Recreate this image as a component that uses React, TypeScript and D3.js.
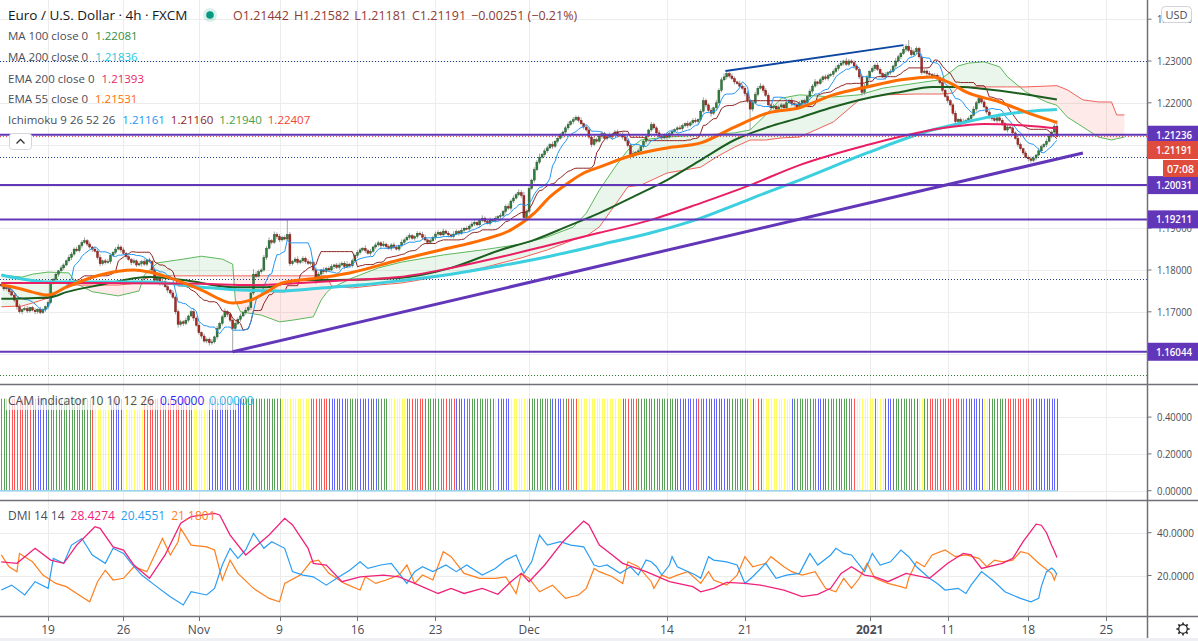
import React from "react";
import * as d3 from "d3";

const W = 1198;
const H = 641;

// ---------- Price data (EUR/USD 4h closes) ----------
const FIRST_OPEN = 1.1766;
const closes = [
  1.1762, 1.1755, 1.1758, 1.1748, 1.1740, 1.1728, 1.1712, 1.1700, 1.1705, 1.1708,
  1.1702, 1.1710, 1.1704, 1.1700, 1.1706, 1.1698, 1.1705, 1.1712, 1.1722, 1.1770,
  1.1778, 1.1790, 1.1798, 1.1805, 1.1812, 1.1822, 1.1830, 1.1838, 1.1850, 1.1846,
  1.1858, 1.1866, 1.1870, 1.1862, 1.1855, 1.1850, 1.1845, 1.1830, 1.1815, 1.1822,
  1.1818, 1.1820, 1.1835, 1.1842, 1.1850, 1.1855, 1.1848, 1.1840, 1.1832, 1.1825,
  1.1818, 1.1822, 1.1812, 1.1815, 1.1820, 1.1814, 1.1824, 1.1820, 1.1800, 1.1775,
  1.1780, 1.1768, 1.1772, 1.1760, 1.1752, 1.1745, 1.1735, 1.1700, 1.1670, 1.1676,
  1.1672, 1.1680, 1.1690, 1.1700, 1.1685, 1.1668, 1.1650, 1.1642, 1.1630, 1.1634,
  1.1626, 1.1628, 1.1640, 1.1660, 1.1672, 1.1688, 1.1700, 1.1694, 1.1680, 1.1660,
  1.1672, 1.1682, 1.1690, 1.1698, 1.1704, 1.1710, 1.1745, 1.1790, 1.1785, 1.1796,
  1.1800, 1.1830, 1.1852, 1.1870, 1.1866, 1.1885, 1.1880, 1.1872, 1.1878, 1.1874,
  1.1885, 1.1815, 1.1820, 1.1826, 1.1818, 1.1822, 1.1828, 1.1820, 1.1816, 1.1818,
  1.1800, 1.1775, 1.1790, 1.1800, 1.1796, 1.1804, 1.1800, 1.1808, 1.1812, 1.1806,
  1.1812, 1.1816, 1.1808, 1.1814, 1.1810, 1.1822, 1.1835, 1.1842, 1.1848, 1.1852,
  1.1846, 1.1840, 1.1845, 1.1855, 1.1860, 1.1865, 1.1858, 1.1862, 1.1856, 1.1852,
  1.1860, 1.1854, 1.1850, 1.1858, 1.1866, 1.1872, 1.1878, 1.1882, 1.1876, 1.1880,
  1.1888, 1.1885, 1.1878, 1.1872, 1.1866, 1.1870, 1.1878, 1.1886, 1.1890, 1.1884,
  1.1893, 1.1888, 1.1884, 1.1880, 1.1886, 1.1892, 1.1888, 1.1895, 1.1900, 1.1898,
  1.1905, 1.1910, 1.1914, 1.1908, 1.1918, 1.1924, 1.1916, 1.1912, 1.1920, 1.1918,
  1.1924, 1.1928, 1.1930, 1.1940, 1.1952, 1.1948, 1.1965, 1.1972, 1.1980, 1.1985,
  1.1978, 1.1925, 1.1940, 1.1995, 1.2015, 1.2040, 1.2058, 1.2070, 1.2076, 1.2085,
  1.2092, 1.2100, 1.2096, 1.2108, 1.2115, 1.2122, 1.2130, 1.2140, 1.2148, 1.2155,
  1.2160, 1.2165, 1.2158, 1.2150, 1.2142, 1.2135, 1.2118, 1.2100, 1.2112, 1.2108,
  1.2120, 1.2126, 1.2115, 1.2122, 1.2118, 1.2124, 1.2130, 1.2122, 1.2125, 1.2118,
  1.2110, 1.2098, 1.2072, 1.2078, 1.2082, 1.2085, 1.2095, 1.2108, 1.2120, 1.2135,
  1.2148, 1.2140, 1.2128, 1.2120, 1.2116, 1.2122, 1.2118, 1.2126, 1.2132, 1.2136,
  1.2140, 1.2138, 1.2145, 1.2150, 1.2146, 1.2152, 1.2158, 1.2155, 1.2160, 1.2180,
  1.2205, 1.2195, 1.2182, 1.2175, 1.2188, 1.2200, 1.2230, 1.2255, 1.2262, 1.2270,
  1.2264, 1.2258, 1.2250, 1.2246, 1.2240, 1.2235, 1.2222, 1.2205, 1.2185, 1.2200,
  1.2220, 1.2235, 1.2240, 1.2230, 1.2218, 1.2195, 1.2188, 1.2192, 1.2185, 1.2190,
  1.2195, 1.2188, 1.2200, 1.2205, 1.2198, 1.2195, 1.2190, 1.2198, 1.2205, 1.2200,
  1.2215, 1.2228, 1.2240, 1.2250, 1.2246, 1.2255, 1.2262, 1.2258, 1.2265, 1.2268,
  1.2275, 1.2282, 1.2290, 1.2295, 1.2300, 1.2292, 1.2300, 1.2296, 1.2288, 1.2280,
  1.2262, 1.2225, 1.2240, 1.2260, 1.2275, 1.2282, 1.2290, 1.2280, 1.2270, 1.2262,
  1.2268, 1.2272, 1.2275, 1.2288, 1.2300, 1.2310, 1.2318, 1.2328, 1.2335, 1.2325,
  1.2315, 1.2322, 1.2330, 1.2310, 1.2272, 1.2276, 1.2270, 1.2268, 1.2262, 1.2266,
  1.2260, 1.2248, 1.2230, 1.2215, 1.2205, 1.2195, 1.2175, 1.2155, 1.2160, 1.2152,
  1.2156, 1.2158, 1.2162, 1.2170, 1.2185, 1.2200, 1.2210, 1.2202, 1.2190, 1.2178,
  1.2165, 1.2162, 1.2158, 1.2164, 1.2158, 1.2150, 1.2135, 1.2142, 1.2140, 1.2128,
  1.2115, 1.2100, 1.2090, 1.2080, 1.2070, 1.2066, 1.2062, 1.2068, 1.2075, 1.2085,
  1.2095, 1.2100, 1.2108, 1.2120, 1.2130, 1.2144, 1.2119,
];
// wick extents beyond the body, in pips
const upWickPips = [
  4, 3, 6, 2, 5, 3, 4, 7, 3, 5, 6, 2, 4, 5, 3, 6, 4, 3, 5, 8,
  3, 5, 2, 6, 4, 3, 7, 5, 4, 6, 3, 5, 8, 4, 6, 3, 5, 4, 7, 3,
  5, 6, 4, 3, 5, 7, 4, 6, 3, 5, 4, 6, 3, 5, 4, 8, 3, 5, 4, 6,
  5, 3, 6, 4, 5, 3, 7, 4, 6, 5, 4, 6, 3, 5, 8, 4, 5, 3, 6, 4,
  5, 7, 3, 6, 4, 5, 8, 4, 6, 3, 5, 4, 6, 3, 7, 5, 4, 12, 6, 5,
  4, 6, 5, 8, 4, 7, 5, 6, 4, 5, 36, 6, 4, 5, 7, 3, 5, 4, 6, 5,
  4, 6, 5, 3, 7, 4, 5, 6, 3, 5, 6, 4, 5, 7, 3, 5, 4, 6, 5, 3,
  7, 4, 5, 3, 6, 5, 4, 7, 3, 5, 4, 6, 5, 3, 7, 4, 5, 6, 4, 3,
  5, 4, 6, 7, 3, 5, 4, 6, 5, 3, 6, 4, 5, 3, 7, 5, 4, 6, 3, 5,
  4, 6, 5, 3, 5, 7, 4, 5, 6, 4, 5, 3, 6, 4, 5, 7, 4, 6, 5, 8,
  6, 9, 5, 7, 4, 6, 5, 8, 4, 6, 5, 4, 7, 3, 5, 6, 4, 5, 7, 4,
  6, 5, 4, 7, 3, 5, 6, 4, 8, 5, 4, 6, 5, 3, 7, 4, 5, 6, 4, 5,
  6, 4, 5, 7, 3, 5, 4, 6, 5, 3, 6, 5, 4, 7, 3, 5, 6, 4, 5, 3,
  4, 6, 5, 3, 7, 4, 5, 6, 3, 5, 8, 5, 4, 6, 3, 7, 5, 6, 8, 5,
  4, 6, 5, 3, 7, 4, 5, 6, 4, 5, 6, 5, 7, 4, 5, 6, 3, 5, 4, 6,
  5, 3, 6, 4, 7, 5, 4, 6, 3, 5, 4, 6, 5, 7, 3, 5, 4, 6, 5, 4,
  5, 7, 4, 6, 3, 8, 5, 4, 6, 5, 4, 6, 5, 7, 3, 5, 4, 6, 5, 3,
  5, 4, 6, 3, 7, 5, 4, 6, 5, 15, 8, 6, 5, 4, 7, 5, 4, 6, 3, 5,
  4, 6, 5, 3, 7, 4, 5, 6, 4, 5, 6, 4, 5, 3, 7, 5, 4, 6, 5, 3,
  5, 4, 6, 3, 7, 5, 4, 6, 5, 4, 4, 6, 5, 3, 5, 4, 6, 5, 3, 7,
  5, 4, 6, 5, 4, 6, 14,
];
const loWickPips = [
  3, 5, 4, 6, 3, 5, 7, 4, 6, 3, 5, 4, 3, 6, 5, 4, 3, 5, 6, 4,
  5, 3, 6, 4, 5, 3, 4, 6, 5, 3, 4, 6, 3, 5, 4, 7, 3, 5, 6, 4,
  5, 3, 6, 4, 5, 3, 6, 4, 5, 3, 6, 4, 5, 3, 7, 4, 5, 3, 6, 5,
  4, 6, 5, 3, 7, 4, 5, 6, 8, 5, 6, 4, 5, 3, 7, 4, 5, 6, 4, 5,
  7, 5, 4, 6, 3, 5, 4, 6, 5, 56, 5, 4, 6, 3, 5, 4, 6, 5, 4, 3,
  5, 4, 6, 3, 5, 4, 6, 5, 4, 3, 5, 6, 4, 3, 5, 4, 6, 5, 4, 5,
  4, 8, 5, 3, 6, 4, 5, 3, 6, 4, 5, 3, 6, 4, 5, 4, 3, 6, 5, 4,
  5, 3, 6, 4, 5, 4, 6, 3, 5, 4, 6, 4, 3, 5, 4, 6, 3, 5, 4, 6,
  5, 3, 6, 4, 5, 4, 3, 6, 5, 4, 5, 3, 6, 4, 5, 3, 6, 4, 5, 3,
  6, 4, 5, 3, 6, 4, 5, 3, 6, 4, 5, 4, 6, 3, 5, 4, 6, 5, 3, 4,
  6, 8, 7, 5, 4, 6, 3, 5, 4, 6, 5, 3, 6, 4, 5, 3, 6, 4, 5, 3,
  6, 4, 5, 3, 6, 4, 5, 6, 4, 5, 3, 6, 4, 5, 3, 6, 4, 5, 3, 6,
  4, 5, 7, 4, 6, 3, 5, 4, 6, 3, 5, 4, 6, 3, 5, 4, 6, 3, 5, 4,
  6, 3, 5, 4, 6, 3, 5, 4, 6, 5, 4, 6, 5, 8, 4, 6, 3, 5, 4, 6,
  5, 4, 6, 3, 5, 4, 6, 5, 50, 6, 4, 5, 3, 6, 4, 5, 6, 4, 5, 3,
  6, 4, 5, 3, 6, 4, 5, 3, 6, 4, 5, 3, 6, 4, 5, 3, 6, 4, 5, 3,
  6, 4, 5, 3, 6, 4, 5, 3, 6, 4, 5, 8, 6, 4, 5, 3, 6, 4, 5, 3,
  6, 4, 5, 3, 6, 4, 5, 3, 6, 4, 5, 3, 6, 4, 5, 3, 6, 4, 5, 3,
  6, 4, 5, 3, 6, 4, 5, 6, 4, 5, 3, 6, 4, 5, 3, 6, 4, 5, 3, 6,
  4, 5, 3, 6, 4, 5, 3, 6, 4, 5, 3, 6, 4, 5, 3, 6, 5, 4, 6, 3,
  5, 4, 6, 3, 5, 4, 1,
];

// ---------- Moving averages [bar index, price] ----------
const ma100Pts: [number, number][] = [
  [0, 1.1731], [19, 1.1735], [25, 1.1747], [38, 1.1764], [57, 1.1783], [70, 1.1776], [89, 1.1759],
  [102, 1.1759], [115, 1.1776], [128, 1.1776], [153, 1.1781], [173, 1.1805], [192, 1.1848], [205, 1.1872],
  [218, 1.1905], [230, 1.1936], [243, 1.1975], [256, 1.2015], [269, 1.2063], [282, 1.2111], [295, 1.2142],
  [307, 1.2164], [320, 1.2190], [333, 1.2211], [346, 1.2226], [358, 1.2238], [369, 1.2238], [378, 1.2233],
  [391, 1.2223], [406, 1.2208],
];
const ma200Pts: [number, number][] = [
  [0, 1.1788], [19, 1.1771], [57, 1.1771], [77, 1.1759], [92, 1.1752], [107, 1.1750], [123, 1.1757],
  [138, 1.1764], [153, 1.1774], [173, 1.1790], [192, 1.1810], [211, 1.1833], [230, 1.1860], [250, 1.1889],
  [269, 1.1924], [282, 1.1955], [295, 1.1987], [307, 1.2015], [333, 1.2080], [358, 1.2135], [371, 1.2154],
  [384, 1.2171], [396, 1.2180], [406, 1.2184],
];
const ema200Pts: [number, number][] = [
  [0, 1.1769], [38, 1.1769], [77, 1.1767], [96, 1.1764], [115, 1.1769], [134, 1.1776], [153, 1.1783],
  [173, 1.1805], [192, 1.1831], [211, 1.1860], [230, 1.1889], [250, 1.1920], [269, 1.1960], [288, 1.2003],
  [307, 1.2051], [333, 1.2099], [352, 1.2128], [365, 1.2142], [378, 1.2149], [397, 1.2144], [406, 1.2139],
];
const ema55Pts: [number, number][] = [
  [0, 1.1764], [6, 1.1757], [12, 1.1747], [18, 1.1740], [25, 1.1759], [38, 1.1788], [51, 1.1800],
  [57, 1.1795], [64, 1.1783], [77, 1.1752], [89, 1.1721], [96, 1.1728], [102, 1.1747], [108, 1.1769],
  [122, 1.1781], [134, 1.1793], [153, 1.1824], [169, 1.1848], [185, 1.1872], [196, 1.1896], [205, 1.1936],
  [211, 1.1975], [218, 1.2008], [224, 1.2032], [230, 1.2046], [243, 1.2075], [256, 1.2092], [269, 1.2104],
  [282, 1.2142], [295, 1.2176], [307, 1.2188], [320, 1.2219], [333, 1.2238], [346, 1.2255], [358, 1.2262],
  [365, 1.2247], [371, 1.2226], [384, 1.2202], [397, 1.2171], [406, 1.2153],
];

// ---------- Ichimoku cloud (leading spans, shifted 26 bars) ----------
const cloudIdx = [
  0, 8, 12, 18, 26, 29, 35, 45, 53, 55, 60, 70, 77, 85, 89, 90, 92, 100, 107, 112, 120, 123, 125, 127,
  135, 145, 154, 170, 185, 200, 210, 220, 225, 230, 236, 241, 246, 256, 269, 275, 282, 288, 294, 300,
  307, 320, 330, 339, 352, 361, 366, 368, 372, 378, 384, 387, 394, 402, 406, 410, 416, 422, 427, 429, 432,
];
const spanA = [
  1.1788, 1.1783, 1.1790, 1.1795, 1.1793, 1.1767, 1.1748, 1.1738, 1.1750, 1.1788, 1.1817, 1.1826, 1.1833,
  1.1826, 1.1814, 1.1728, 1.1700, 1.1692, 1.1676, 1.1680, 1.1688, 1.1728, 1.1745, 1.1757, 1.1781, 1.1805,
  1.1819, 1.1836, 1.1848, 1.1862, 1.1879, 1.1903, 1.1936, 1.1991, 1.2046, 1.2087, 1.2111, 1.2118, 1.2123,
  1.2125, 1.2128, 1.2135, 1.2171, 1.2211, 1.2219, 1.2214, 1.2219, 1.2235, 1.2247, 1.2255, 1.2278, 1.2288,
  1.2295, 1.2298, 1.2286, 1.2262, 1.2226, 1.2202, 1.2194, 1.2166, 1.2142, 1.2118, 1.2111, 1.2114, 1.2118,
];
const spanB = [
  1.1712, 1.1714, 1.1721, 1.1733, 1.1762, 1.1764, 1.1764, 1.1764, 1.1769, 1.1779, 1.1786, 1.1786, 1.1786,
  1.1786, 1.1786, 1.1786, 1.1786, 1.1786, 1.1786, 1.1786, 1.1786, 1.1786, 1.1786, 1.1762, 1.1757, 1.1764,
  1.1769, 1.1786, 1.1805, 1.1829, 1.1848, 1.1872, 1.1881, 1.1903, 1.1955, 1.1999, 1.2003, 1.2032, 1.2046,
  1.2070, 1.2094, 1.2111, 1.2111, 1.2116, 1.2118, 1.2154, 1.2207, 1.2219, 1.2221, 1.2221, 1.2223, 1.2238,
  1.2238, 1.2238, 1.2238, 1.2238, 1.2238, 1.2240, 1.2241, 1.2231, 1.2207, 1.2202, 1.2202, 1.2171, 1.2171,
];

// ---------- CAM indicator colour runs (R/G/B/Y, bar count) ----------
const camRuns: [string, number][] = [
  ["R", 1], ["G", 2], ["R", 1], ["R", 8], ["B", 6], ["G", 17], ["R", 1], ["Y", 6], ["B", 5], ["Y", 8],
  ["R", 19], ["Y", 6], ["B", 14], ["G", 14], ["Y", 11], ["R", 7], ["B", 7], ["G", 5], ["B", 7], ["G", 4],
  ["Y", 7], ["R", 7], ["G", 6], ["R", 6], ["B", 4], ["G", 11], ["Y", 1], ["B", 5], ["Y", 7], ["G", 9],
  ["B", 4], ["R", 1], ["G", 1], ["R", 4], ["Y", 17], ["B", 1], ["R", 5], ["G", 14], ["B", 7], ["R", 1],
  ["B", 1], ["R", 2], ["B", 10], ["G", 6], ["R", 2], ["Y", 1], ["B", 1], ["Y", 1], ["R", 2], ["Y", 11],
  ["B", 1], ["G", 9], ["B", 4], ["G", 4], ["B", 1], ["G", 5], ["R", 1], ["Y", 7], ["G", 1], ["Y", 3],
  ["B", 4], ["G", 8], ["B", 1], ["Y", 2], ["G", 2], ["R", 14], ["B", 7], ["Y", 2], ["G", 7], ["R", 10],
  ["B", 10],
];
const camColors: Record<string, string> = { R: "#ff2a2a", G: "#2e8b2e", B: "#3b3bff", Y: "#ffff3a" };

// ---------- DMI [bar index, value] ----------
const adxPts: [number, number][] = [
  [0, 26.4], [6, 25.7], [13, 32.7], [19, 27.2], [24, 25.7], [29, 34.2], [36, 42.8], [38, 42.0], [43, 33.4],
  [47, 31.9], [51, 24.9], [57, 18.7], [63, 29.6], [69, 44.4], [73, 47.5], [82, 49.0], [84, 48.3], [88, 38.9],
  [94, 29.6], [103, 38.9], [109, 46.7], [112, 43.6], [118, 32.7], [120, 25.7], [125, 24.9], [131, 17.1],
  [138, 19.4], [147, 20.2], [153, 19.4], [159, 16.3], [168, 11.6], [173, 14.0], [178, 11.6], [185, 14.0],
  [191, 11.2], [196, 17.1], [200, 21.0], [203, 17.1], [209, 24.9], [216, 35.8], [224, 45.4], [226, 43.6],
  [230, 34.2], [235, 29.6], [239, 25.7], [248, 21.8], [257, 17.1], [266, 14.8], [269, 12.4], [274, 14.0],
  [279, 16.8], [286, 16.3], [292, 15.5], [301, 13.2], [308, 10.1], [314, 11.2], [319, 14.0], [323, 21.0],
  [327, 24.1], [332, 20.2], [336, 19.4], [341, 17.1], [348, 21.0], [357, 18.7], [364, 25.7], [370, 30.3],
  [373, 29.6], [377, 23.3], [385, 25.7], [389, 28.0], [393, 35.8], [398, 44.0], [400, 43.5], [402, 40.0],
  [404, 34.0], [405, 31.5], [406, 28.4],
];
const plusDiPts: [number, number][] = [
  [0, 13.2], [4, 15.5], [9, 10.9], [13, 17.1], [18, 14.0], [20, 28.0], [24, 25.7], [27, 34.2], [31, 37.3],
  [35, 29.6], [40, 25.7], [43, 32.7], [47, 30.3], [50, 25.7], [54, 20.2], [59, 15.5], [65, 10.1], [70, 6.2],
  [73, 12.4], [79, 10.9], [82, 14.0], [85, 24.9], [88, 32.7], [91, 28.0], [94, 31.9], [97, 39.7], [101, 32.7],
  [104, 35.8], [109, 32.7], [112, 21.8], [116, 20.2], [120, 19.4], [125, 15.5], [129, 18.7], [134, 22.5],
  [138, 26.4], [141, 23.3], [146, 24.9], [150, 25.7], [156, 16.3], [159, 21.8], [162, 24.1], [166, 21.8],
  [171, 24.9], [175, 21.8], [179, 24.9], [185, 20.2], [190, 23.3], [194, 27.2], [198, 29.6], [201, 21.0],
  [204, 26.4], [207, 38.9], [210, 34.2], [215, 35.8], [219, 34.2], [224, 33.4], [228, 24.9], [230, 24.1],
  [233, 24.9], [238, 21.0], [242, 24.1], [245, 20.2], [248, 27.2], [250, 26.4], [252, 24.1], [254, 20.2],
  [257, 24.9], [258, 28.8], [260, 24.1], [267, 20.2], [269, 18.7], [272, 28.8], [274, 27.2], [279, 26.4],
  [283, 24.9], [286, 16.3], [289, 19.4], [294, 25.7], [298, 18.7], [302, 20.2], [307, 21.0], [310, 28.0],
  [311, 30.3], [314, 24.9], [319, 29.6], [321, 32.7], [324, 30.3], [327, 29.6], [332, 21.8], [335, 30.3],
  [338, 24.9], [342, 26.4], [346, 31.9], [349, 28.8], [352, 24.1], [357, 18.7], [360, 16.3], [363, 13.2],
  [368, 14.0], [371, 11.6], [373, 15.5], [377, 21.8], [382, 17.1], [386, 12.4], [392, 9.3], [396, 7.7],
  [399, 9.3], [400, 14.8], [402, 21.8], [404, 23.5], [405, 22.5], [406, 20.5],
];
const minusDiPts: [number, number][] = [
  [0, 29.6], [3, 24.1], [6, 21.8], [7, 30.3], [12, 26.4], [16, 20.2], [21, 16.3], [25, 14.8], [29, 11.6],
  [34, 7.7], [37, 17.1], [40, 22.5], [43, 17.9], [47, 18.7], [51, 24.1], [56, 21.8], [59, 29.6], [62, 37.3],
  [65, 29.6], [68, 35.8], [69, 42.0], [73, 34.2], [79, 33.4], [82, 31.9], [85, 17.9], [88, 27.2], [91, 21.0],
  [97, 14.0], [103, 9.3], [107, 7.7], [109, 16.3], [115, 20.2], [119, 26.4], [122, 27.2], [126, 21.0],
  [132, 16.3], [138, 13.2], [140, 19.4], [144, 16.3], [148, 17.9], [153, 20.2], [156, 24.9], [159, 16.3],
  [162, 20.2], [166, 17.9], [170, 31.1], [173, 28.8], [178, 21.0], [184, 18.7], [190, 18.7], [194, 19.4],
  [198, 11.6], [200, 21.0], [203, 18.7], [207, 12.4], [212, 15.5], [217, 9.3], [222, 10.9], [225, 14.0],
  [228, 23.3], [230, 21.8], [235, 19.4], [239, 16.3], [241, 26.4], [245, 24.1], [250, 17.1], [251, 14.0],
  [254, 20.2], [257, 18.7], [260, 20.2], [264, 21.8], [269, 16.3], [272, 21.8], [274, 17.9], [279, 15.5],
  [283, 20.2], [286, 28.8], [289, 24.1], [294, 25.7], [296, 28.8], [301, 24.1], [304, 21.8], [308, 20.2],
  [313, 21.8], [317, 14.0], [321, 12.4], [324, 18.7], [327, 14.0], [330, 18.7], [333, 25.7], [336, 18.7],
  [341, 16.3], [346, 14.8], [348, 14.0], [349, 18.7], [352, 26.4], [355, 24.1], [358, 29.6], [363, 31.9],
  [367, 28.8], [371, 29.6], [376, 28.0], [379, 24.1], [382, 27.2], [385, 26.4], [389, 27.2], [392, 31.1],
  [395, 30.3], [399, 25.7], [404, 21.0], [405, 17.9], [406, 21.2],
];

// ---------- Drawings / levels ----------
const hLevels = [1.21236, 1.20031, 1.19211, 1.16044];
const hLevelLabels = ["1.21236", "1.20031", "1.19211", "1.16044"];
const navyDotted = [1.23, 1.207, 1.1779];
const greenDotted = [1.1549];
const lastPrice = 1.21191;
const purpleTrend: [number, number][] = [[89, 1.16044], [416, 1.208]];
const blueTrend: [number, number][] = [[278.5, 1.2276], [347, 1.2338]];

// ---------- Axes ----------
// price ticks whose labels are visible (1.16, 1.20, 1.21 sit under level labels)
const priceGrid = [1.16, 1.17, 1.18, 1.19, 1.2, 1.21, 1.22, 1.23, 1.24];
const priceTickLabels = [1.17, 1.18, 1.19, 1.22, 1.23, 1.24];
const camTicks = [0, 0.2, 0.4];
const dmiTicks = [20, 40];
const xTickIdx = [18, 47, 76, 107, 137, 167, 203, 256, 286, 334, 364, 395, 425];
const xTickLabels = ["19", "26", "Nov", "9", "16", "23", "Dec", "14", "21", "2021", "11", "18", "25"];

const FONT = "'Open Sans', 'Noto Sans', Roboto, sans-serif";
const AXIS_X = 1147.5;
const MAIN_BOTTOM = 384;
const TXT = "#4a4d57";

export default function App() {
  const xs = d3.scaleLinear().domain([0, 440]).range([1.3, 1.3 + 2.6 * 440]);
  const ys = d3.scaleLinear().domain([1.16, 1.24]).range([353.6, 19.2]);
  const yc = d3.scaleLinear().domain([0, 0.5]).range([490.7, 398.7]);
  const yd = d3.scaleLinear().domain([0, 40]).range([618.3, 532.7]);

  const opens = closes.map((c, i) => (i === 0 ? FIRST_OPEN : closes[i - 1]));
  const highs = closes.map((c, i) => Math.max(opens[i], c) + upWickPips[i] * 1e-4);
  const lows = closes.map((c, i) => Math.min(opens[i], c) - loWickPips[i] * 1e-4);
  const donchian = (len: number) =>
    closes.map((_, i) => {
      const s = Math.max(0, i - len + 1);
      return ((d3.max(highs.slice(s, i + 1)) as number) + (d3.min(lows.slice(s, i + 1)) as number)) / 2;
    });
  const tenkan = donchian(9);
  const kijun = donchian(26);

  const pLine = d3
    .line<[number, number]>()
    .x((d) => xs(d[0]))
    .y((d) => ys(d[1]))
    .curve(d3.curveMonotoneX);
  const idxLine = d3
    .line<number>()
    .x((_, i) => xs(i))
    .y((d) => ys(d));
  const straight = d3
    .line<[number, number]>()
    .x((d) => xs(d[0]))
    .y((d) => ys(d[1]));
  const dmiLine = d3
    .line<[number, number]>()
    .x((d) => xs(d[0]))
    .y((d) => yd(d[1]))
    .curve(d3.curveLinear);

  const cloud = cloudIdx.map((idx, k) => ({ i: idx, a: spanA[k], b: spanB[k] }));
  const areaAB = d3
    .area<any>()
    .x((d) => xs(d.i))
    .y0((d) => ys(d.a))
    .y1((d) => ys(d.b));
  const clipAbove = d3
    .area<any>()
    .x((d) => xs(d.i))
    .y0(0)
    .y1((d) => ys(d.b));
  const clipBelow = d3
    .area<any>()
    .x((d) => xs(d.i))
    .y0(MAIN_BOTTOM)
    .y1((d) => ys(d.b));
  const spanALine = d3
    .line<any>()
    .x((d) => xs(d.i))
    .y((d) => ys(d.a));
  const spanBLine = d3
    .line<any>()
    .x((d) => xs(d.i))
    .y((d) => ys(d.b));

  const camBars: string[] = [];
  camRuns.forEach(([c, n]) => {
    for (let k = 0; k < n; k++) camBars.push(c);
  });

  const gear = d3.range(8).map((k) => {
    const a = (k * Math.PI) / 4;
    return { x1: 1183 + Math.cos(a) * 4.5, y1: 629 + Math.sin(a) * 4.5, x2: 1183 + Math.cos(a) * 6.6, y2: 629 + Math.sin(a) * 6.6 };
  });

  const fmt5 = d3.format(".5f");
  const fmt4 = d3.format(".4f");

  return (
    <svg
      width={W}
      height={H}
      viewBox={`0 0 ${W} ${H}`}
      style={{ position: "absolute", left: 0, top: 0, background: "#fff", fontFamily: FONT }}
    >
      <defs>
        <clipPath id="mainClip">
          <rect x={0} y={0} width={AXIS_X} height={MAIN_BOTTOM} />
        </clipPath>
        <clipPath id="camClip">
          <rect x={0} y={385} width={AXIS_X} height={115} />
        </clipPath>
        <clipPath id="dmiClip">
          <rect x={0} y={501} width={AXIS_X} height={115} />
        </clipPath>
        <clipPath id="aboveB">
          <path d={clipAbove(cloud) || ""} />
        </clipPath>
        <clipPath id="belowB">
          <path d={clipBelow(cloud) || ""} />
        </clipPath>
        <clipPath id="axisTop">
          <rect x={1148} y={0} width={50} height={MAIN_BOTTOM} />
        </clipPath>
      </defs>
      <rect x={0} y={0} width={W} height={H} fill="#fff" />

      {/* grid */}
      <g stroke="#ececec" strokeWidth={1}>
        {xTickIdx.map((t, k) => (
          <line key={"vg" + k} x1={Math.round(xs(t)) + 0.5} x2={Math.round(xs(t)) + 0.5} y1={0} y2={616} />
        ))}
        {priceGrid.map((t, k) => (
          <line key={"hg" + k} x1={0} x2={AXIS_X} y1={Math.round(ys(t)) + 0.5} y2={Math.round(ys(t)) + 0.5} />
        ))}
        {camTicks.map((t, k) => (
          <line key={"cg" + k} x1={0} x2={AXIS_X} y1={Math.round(yc(t)) + 0.5} y2={Math.round(yc(t)) + 0.5} />
        ))}
        {dmiTicks.map((t, k) => (
          <line key={"dg" + k} x1={0} x2={AXIS_X} y1={Math.round(yd(t)) + 0.5} y2={Math.round(yd(t)) + 0.5} />
        ))}
      </g>

      {/* ---------------- MAIN PANE ---------------- */}
      <g clipPath="url(#mainClip)">
        {/* cloud */}
        <path d={areaAB(cloud) || ""} fill="rgba(67,160,71,0.11)" clipPath="url(#aboveB)" />
        <path d={areaAB(cloud) || ""} fill="rgba(244,67,54,0.11)" clipPath="url(#belowB)" />
        <path d={spanALine(cloud) || ""} fill="none" stroke="#5cb85c" strokeWidth={1} />
        <path d={spanBLine(cloud) || ""} fill="none" stroke="#f0625a" strokeWidth={1} />

        {/* dotted levels */}
        {navyDotted.map((p, k) => (
          <line key={"nd" + k} x1={0} x2={AXIS_X} y1={Math.round(ys(p)) + 0.5} y2={Math.round(ys(p)) + 0.5} stroke="#1f3f99" strokeWidth={1} strokeDasharray="1,2" />
        ))}
        {greenDotted.map((p, k) => (
          <line key={"gd" + k} x1={0} x2={AXIS_X} y1={Math.round(ys(p)) + 0.5} y2={Math.round(ys(p)) + 0.5} stroke="#2e7d32" strokeWidth={1} strokeDasharray="1,2" />
        ))}

        {/* candles */}
        {closes.map((c, i) => {
          const o = opens[i];
          const up = c >= o;
          const x = xs(i);
          const top = ys(Math.max(o, c));
          const bot = ys(Math.min(o, c));
          return (
            <g key={"c" + i}>
              <line x1={x} x2={x} y1={ys(highs[i])} y2={ys(lows[i])} stroke="#9a9a9a" strokeWidth={0.9} />
              <rect
                x={x - 1}
                y={top}
                width={2}
                height={Math.max(1, bot - top)}
                fill={up ? "#2f7d3a" : "#a82a22"}
                stroke={up ? "#1e4f25" : "#6e1712"}
                strokeWidth={0.4}
              />
            </g>
          );
        })}

        {/* ichimoku base lines */}
        <path d={idxLine(kijun) || ""} fill="none" stroke="#8e2424" strokeWidth={1} />
        <path d={idxLine(tenkan) || ""} fill="none" stroke="#2196f3" strokeWidth={1} />

        {/* moving averages */}
        <path d={pLine(ma100Pts) || ""} fill="none" stroke="#1b5e20" strokeWidth={2} />
        <path d={pLine(ma200Pts) || ""} fill="none" stroke="#3ccfe0" strokeWidth={3} />
        <path d={pLine(ema200Pts) || ""} fill="none" stroke="#e91e63" strokeWidth={2} />
        <path d={pLine(ema55Pts) || ""} fill="none" stroke="#ff6d00" strokeWidth={3} />

        {/* current price line */}
        <line x1={0} x2={AXIS_X} y1={ys(lastPrice)} y2={ys(lastPrice)} stroke="#ef3b2c" strokeWidth={1} strokeDasharray="1,2" />

        {/* horizontal levels */}
        {hLevels.map((p, k) => (
          <line key={"hl" + k} x1={0} x2={AXIS_X} y1={ys(p)} y2={ys(p)} stroke="#6236b8" strokeWidth={2} />
        ))}

        {/* trend lines */}
        <path d={straight(purpleTrend) || ""} fill="none" stroke="#6236b8" strokeWidth={3} />
        <path d={straight(blueTrend) || ""} fill="none" stroke="#0d47a1" strokeWidth={2} />
      </g>

      {/* ---------------- CAM PANE ---------------- */}
      <g clipPath="url(#camClip)">
        {camBars.map((c, i) => {
          const x = Math.round(xs(i)) + 0.5;
          return <line key={"cam" + i} x1={x} x2={x} y1={yc(0)} y2={yc(0.5)} stroke={camColors[c]} strokeWidth={1} opacity={0.8} />;
        })}
        <line x1={0} x2={xs(closes.length - 1)} y1={yc(0)} y2={yc(0)} stroke="#9ad6ee" strokeWidth={1.5} />
        <rect x={5} y={392} width={232} height={18} fill="rgba(255,255,255,0.7)" />
        <text x={8} y={405} fontSize={12} fill={TXT}>
          CAM indicator 10 10 12 26
          <tspan dx={6} fill="#2b2bff">0.50000</tspan>
          <tspan dx={5} fill="#35b8e0">0.00000</tspan>
        </text>
      </g>

      {/* ---------------- DMI PANE ---------------- */}
      <g clipPath="url(#dmiClip)">
        <path d={dmiLine(minusDiPts) || ""} fill="none" stroke="#ff7f1e" strokeWidth={1.2} />
        <path d={dmiLine(plusDiPts) || ""} fill="none" stroke="#2a9df4" strokeWidth={1.2} />
        <path d={dmiLine(adxPts) || ""} fill="none" stroke="#f0217a" strokeWidth={1.3} />
        <text x={8} y={520} fontSize={12} fill={TXT}>
          DMI 14 14
          <tspan dx={6} fill="#f0217a">{fmt4(28.4274)}</tspan>
          <tspan dx={6} fill="#2a9df4">{fmt4(20.4551)}</tspan>
          <tspan dx={6} fill="#ff7f1e">{fmt4(21.1801)}</tspan>
        </text>
      </g>

      {/* ---------------- LEGEND ---------------- */}
      <text x={8} y={20} fontSize={13.5} fill="#131722">
        Euro / U.S. Dollar · 4h · FXCM
      </text>
      <circle cx={210} cy={15} r={7} fill="rgba(8,153,129,0.15)" />
      <circle cx={210} cy={15} r={3.8} fill="#089981" />
      <text x={233} y={20} fontSize={12.5} fill="#8e3b35">
        O1.21442<tspan dx={5}>H1.21582</tspan>
        <tspan dx={5}>L1.21181</tspan>
        <tspan dx={5}>C1.21191</tspan>
        <tspan dx={5}>−0.00251 (−0.21%)</tspan>
      </text>
      <g fontSize={11.5} fill={TXT}>
        <text x={8} y={40}>
          MA 100 close 0<tspan dx={7} fill="#388e3c">1.22081</tspan>
        </text>
        <text x={8} y={61}>
          MA 200 close 0<tspan dx={7} fill="#26c6da">1.21836</tspan>
        </text>
        <text x={8} y={83}>
          EMA 200 close 0<tspan dx={7} fill="#e91e63">1.21393</tspan>
        </text>
        <text x={8} y={103}>
          EMA 55 close 0<tspan dx={7} fill="#ff6d00">1.21531</tspan>
        </text>
        <text x={8} y={124}>
          Ichimoku 9 26 52 26<tspan dx={7} fill="#2196f3">1.21161</tspan>
          <tspan dx={6} fill="#8e2424">1.21160</tspan>
          <tspan dx={6} fill="#43a047">1.21940</tspan>
          <tspan dx={6} fill="#f44336">1.22407</tspan>
        </text>
      </g>
      {/* collapse button */}
      <rect x={9.5} y={133.5} width={22} height={16} rx={3} fill="#fff" stroke="#d4d6dc" />
      <path d="M16.5,143.5 L20.5,139.5 L24.5,143.5" fill="none" stroke="#333" strokeWidth={1.3} />

      {/* ---------------- SEPARATORS / AXES ---------------- */}
      <line x1={0} x2={W} y1={384.5} y2={384.5} stroke="#6f7179" strokeWidth={1.5} />
      <line x1={0} x2={W} y1={500.5} y2={500.5} stroke="#6f7179" strokeWidth={1.5} />
      <line x1={0} x2={W} y1={616.5} y2={616.5} stroke="#6f7179" strokeWidth={1.5} />
      <line x1={AXIS_X} x2={AXIS_X} y1={0} y2={638} stroke="#6f7179" strokeWidth={1.5} />
      <rect x={0} y={638} width={W} height={3} fill="#eef0f3" />

      {/* price axis labels */}
      <g fontSize={11.5} fill={TXT}>
        {priceGrid.map((t, k) => (
          <line key={"ptm" + k} x1={AXIS_X} x2={AXIS_X + 4} y1={ys(t)} y2={ys(t)} stroke="#6f7179" />
        ))}
        <g clipPath="url(#axisTop)">
          {priceTickLabels.map((t, k) => (
            <text key={"pt" + k} x={1157} y={ys(t) + 4} textLength={35} lengthAdjust="spacingAndGlyphs">
              {fmt5(t)}
            </text>
          ))}
        </g>
        {camTicks.map((t, k) => (
          <g key={"ct" + k}>
            <line x1={AXIS_X} x2={AXIS_X + 4} y1={yc(t)} y2={yc(t)} stroke="#6f7179" />
            <text x={1157} y={yc(t) + 4} textLength={35} lengthAdjust="spacingAndGlyphs">
              {fmt5(t)}
            </text>
          </g>
        ))}
        {dmiTicks.map((t, k) => (
          <g key={"dt" + k}>
            <line x1={AXIS_X} x2={AXIS_X + 4} y1={yd(t)} y2={yd(t)} stroke="#6f7179" />
            <text x={1157} y={yd(t) + 4} textLength={37} lengthAdjust="spacingAndGlyphs">
              {fmt4(t)}
            </text>
          </g>
        ))}
      </g>

      {/* level labels */}
      {hLevels.map((p, k) => (
        <g key={"hlab" + k}>
          <rect x={1148} y={ys(p) - 9} width={50} height={18} fill="#6236b8" />
          <text x={1156} y={ys(p) + 4} fontSize={11.5} fill="#fff" fontWeight={600} textLength={36} lengthAdjust="spacingAndGlyphs">
            {hLevelLabels[k]}
          </text>
        </g>
      ))}
      <rect x={1148} y={141} width={50} height={18} fill="#df4b3c" />
      <text x={1156} y={154} fontSize={11.5} fill="#fff" fontWeight={600} textLength={36} lengthAdjust="spacingAndGlyphs">
        {fmt5(lastPrice)}
      </text>
      <rect x={1163} y={160} width={35} height={17} fill="#df4b3c" />
      <text x={1167} y={172.5} fontSize={11.5} fill="#fff" fontWeight={600} textLength={27} lengthAdjust="spacingAndGlyphs">
        07:08
      </text>

      {/* USD box */}
      <rect x={1161.5} y={6.5} width={30} height={16} rx={4} fill="#fff" stroke="#d0d3da" />
      <text x={1176.5} y={18.5} fontSize={11} fill={TXT} textAnchor="middle">
        USD
      </text>

      {/* time axis */}
      <g fontSize={12} fill={TXT}>
        {xTickIdx.map((t, k) => (
          <g key={"xt" + k}>
            <line x1={Math.round(xs(t)) + 0.5} x2={Math.round(xs(t)) + 0.5} y1={617} y2={621} stroke="#6f7179" />
            <text x={xs(t)} y={634} textAnchor="middle" fontWeight={xTickLabels[k] === "2021" ? 700 : 400}>
              {xTickLabels[k]}
            </text>
          </g>
        ))}
      </g>

      {/* gear */}
      <circle cx={1183} cy={629} r={4.3} fill="none" stroke="#222" strokeWidth={1.3} />
      {gear.map((g, k) => (
        <line key={"g" + k} x1={g.x1} y1={g.y1} x2={g.x2} y2={g.y2} stroke="#222" strokeWidth={1.6} />
      ))}
    </svg>
  );
}
